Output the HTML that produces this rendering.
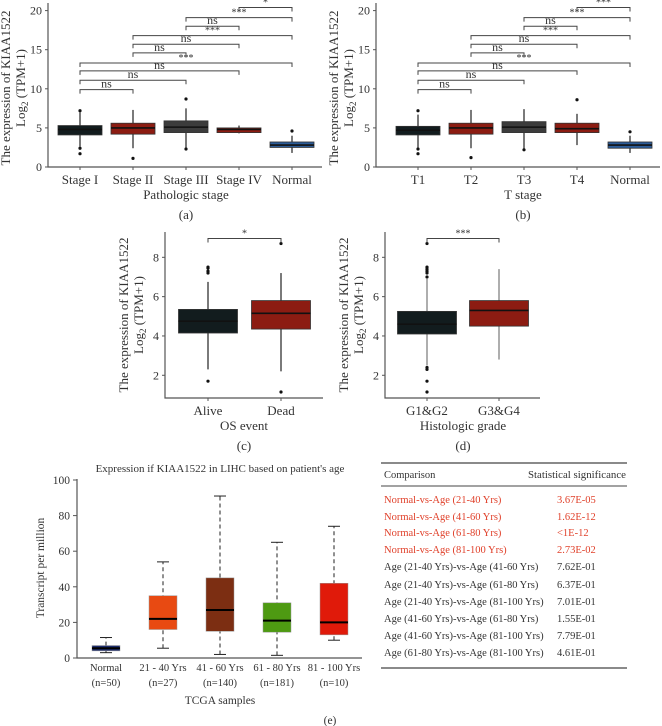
<!DOCTYPE html>
<html><head><meta charset="utf-8">
<style>
html,body{margin:0;padding:0;background:#fff;}
svg{display:block;font-family:"Liberation Serif","Times New Roman",serif;}
</style></head>
<body>
<svg id="fig" width="662" height="726" viewBox="0 0 662 726" xmlns="http://www.w3.org/2000/svg"></svg>
<script>
// ---------- DATA ----------
// each box: [whiskerLow, q1, median, q3, whiskerHigh]
const stageCats = ["Stage I","Stage II","Stage III","Stage IV","Normal"];
const stageBoxes = [[2.6,4.1,4.8,5.3,7.0],[2.4,4.2,5.0,5.6,7.3],[2.5,4.4,5.1,5.9,7.5],[4.3,4.4,4.8,5.0,5.3],[1.8,2.5,2.8,3.2,4.0]];
const stageOutliers = [[7.2,2.4,1.7],[1.1],[8.7,2.3],[],[4.6]];
const stageSig = ["ns","ns","ns","***","ns","ns","***","ns","***","*"];
const tCats = ["T1","T2","T3","T4","Normal"];
const tBoxes = [[2.5,4.1,4.7,5.2,6.7],[2.4,4.2,5.0,5.6,7.3],[2.2,4.4,5.1,5.8,7.4],[2.8,4.4,4.9,5.6,6.8],[1.8,2.4,2.8,3.2,4.0]];
const tOutliers = [[7.2,2.3,1.7],[1.2],[2.2],[8.6],[4.5]];
const tSig = ["ns","ns","ns","***","ns","ns","***","ns","***","***"];
const osCats = ["Alive","Dead"];
const osBoxes = [[2.3,4.15,4.75,5.35,6.75],[2.2,4.35,5.15,5.8,7.2]];
const osOutliers = [[7.2,7.3,7.45,7.5,1.7],[8.7,1.15]];
const gradeCats = ["G1&G2","G3&G4"];
const gradeBoxes = [[2.5,4.1,4.6,5.25,6.9],[2.8,4.5,5.3,5.8,7.4]];
const gradeOutliers = [[7.0,7.2,7.3,7.4,7.5,8.7,2.4,2.3,1.7,1.15],[]];
const ageCats = ["Normal","21 - 40 Yrs","41 - 60 Yrs","61 - 80 Yrs","81 - 100 Yrs"];
const ageN = ["(n=50)","(n=27)","(n=140)","(n=181)","(n=10)"];
const ageBoxes = [[3,4,5.5,7,11.5],[5.5,16,22,35,54],[2,15,27,45,91],[1.5,14.5,21,31,65],[10,13,20,42,74]];
const ageTicks = [0,20,40,60,80,100];
const compRows = ["Normal-vs-Age (21-40 Yrs)","Normal-vs-Age (41-60 Yrs)","Normal-vs-Age (61-80 Yrs)","Normal-vs-Age (81-100 Yrs)","Age (21-40 Yrs)-vs-Age (41-60 Yrs)","Age (21-40 Yrs)-vs-Age (61-80 Yrs)","Age (21-40 Yrs)-vs-Age (81-100 Yrs)","Age (41-60 Yrs)-vs-Age (61-80 Yrs)","Age (41-60 Yrs)-vs-Age (81-100 Yrs)","Age (61-80 Yrs)-vs-Age (81-100 Yrs)"];
const compVals = ["3.67E-05","1.62E-12","<1E-12","2.73E-02","7.62E-01","6.37E-01","7.01E-01","1.55E-01","7.79E-01","4.61E-01"];

// ---------- HELPERS ----------
const NS="http://www.w3.org/2000/svg";
const svg=document.getElementById('fig');
function mk(tag,attrs,parent,text){const e=document.createElementNS(NS,tag);for(const k in attrs)e.setAttribute(k,attrs[k]);if(text!==undefined)e.textContent=text;(parent||svg).appendChild(e);return e;}
function grp(name){const g=mk('g',{});return g;}

function boxPanel(o){
  const g=grp(o.name);
  const ys=v=>o.y0-(v-o.vmin)*o.k;
  const xs=i=>o.x0+i*o.step;
  const ax=mk('path',{d:`M${o.ax},${o.top} V${o.axY} H${o.axR}`,fill:'none',stroke:'#555','stroke-width':1.2},g);
  
  o.ticks.forEach(t=>{const y=ys(t);mk('line',{x1:o.ax-3,x2:o.ax,y1:y,y2:y,stroke:'#555'},g);
    const tl=mk('text',{x:o.ax-6,y:y+4,'text-anchor':'end','font-size':o.fs||12,fill:'#333'},g,t);
    });
  o.cats.forEach((c,i)=>{const x=xs(i);const b=o.boxes[i];
    mk('line',{x1:x,x2:x,y1:o.axY,y2:o.axY+3,stroke:'#555'},g);
    mk('line',{x1:x,x2:x,y1:ys(b[0]),y2:ys(b[4]),stroke:o.wc||'#222','stroke-width':1.2},g);
    const r=mk('rect',{x:x-o.bw/2,y:ys(b[3]),width:o.bw,height:ys(b[1])-ys(b[3]),fill:o.colors[i],stroke:'#333','stroke-width':0.8},g);
    
    mk('line',{x1:x-o.bw/2,x2:x+o.bw/2,y1:ys(b[2]),y2:ys(b[2]),stroke:o.mc||'#111','stroke-width':1.6},g);
    (o.outs[i]||[]).forEach(v=>mk('circle',{cx:x,cy:ys(v),r:1.6,fill:'#111'},g));
    const l=mk('text',{x:x,y:o.axY+17,'text-anchor':'middle','font-size':13,fill:'#333'},g,c);
    
  });
  const xt=mk('text',{x:o.xtX,y:o.axY+32,'text-anchor':'middle','font-size':13,fill:'#333'},g,o.xtitle);
  
  const yt=mk('text',{transform:`translate(${o.ytX},${o.ytY}) rotate(-90)`,'text-anchor':'middle','font-size':13,fill:'#333'},g);
  
  mk('tspan',{x:0,y:0},yt,'The expression of KIAA1522');
  mk('tspan',{x:0,y:15},yt,'Log');mk('tspan',{'font-size':9,dy:3},yt,'2');mk('tspan',{dy:-3},yt,' (TPM+1)');
  const pl=mk('text',{x:o.xtX,y:o.axY+52,'text-anchor':'middle','font-size':13,fill:'#333'},g,o.label);
  
  if(o.pairs){o.pairs.forEach((p,j)=>{const y=ys(o.blev[j]);const x1=xs(p[0]),x2=xs(p[1]);
    mk('path',{d:`M${x1},${y+4} V${y} H${x2} V${y+4}`,fill:'none',stroke:'#444','stroke-width':1},g);
    const s=mk('text',{x:(x1+x2)/2,y:y-2,'text-anchor':'middle','font-size':o.sig[j]==='ns'?12:10,fill:'#333'},g,o.sig[j]);
    });}
  return g;
}
const pairs5=[[0,1],[0,2],[0,3],[0,4],[1,2],[1,3],[1,4],[2,3],[2,4],[3,4]];
const blev5=[9.9,11.1,12.3,13.3,14.6,15.7,16.8,18.0,19.1,20.4];
const col5=['#121c1e','#8c1c12','#3c3c3c','#8c1c12','#2c5c98'];

boxPanel({name:'panel-a-pathologic-stage',cats:stageCats,boxes:stageBoxes,outs:stageOutliers,colors:col5,
  x0:80,step:53,bw:44,y0:167,vmin:0,k:7.82,ax:48,top:3,axY:167,axR:322,ticks:[0,5,10,15,20],
  xtitle:'Pathologic stage',xtX:186,ytX:10,ytY:88,label:'(a)',pairs:pairs5,blev:blev5,sig:stageSig});
boxPanel({name:'panel-b-t-stage',cats:tCats,boxes:tBoxes,outs:tOutliers,colors:col5,
  x0:418,step:53,bw:44,y0:167,vmin:0,k:7.82,ax:376,top:3,axY:167,axR:660,ticks:[0,5,10,15,20],
  xtitle:'T stage',xtX:523,ytX:338,ytY:88,label:'(b)',pairs:pairs5,blev:blev5,sig:tSig});
boxPanel({name:'panel-c-os-event',cats:osCats,boxes:osBoxes,outs:osOutliers,colors:['#121c1e','#8c1c12'],
  x0:208,step:73,bw:59,y0:414.6,vmin:0,k:19.66,ax:165,top:232,axY:398,axR:323,ticks:[2,4,6,8],
  xtitle:'OS event',xtX:244,ytX:128,ytY:315,label:'(c)',pairs:[[0,1]],blev:[8.96],sig:['*']});
boxPanel({name:'panel-d-histologic-grade',cats:gradeCats,boxes:gradeBoxes,outs:gradeOutliers,colors:['#121c1e','#8c1c12'],wc:'#777',
  x0:427,step:72,bw:59,y0:414.6,vmin:0,k:19.66,ax:385,top:232,axY:398,axR:540,ticks:[2,4,6,8],
  xtitle:'Histologic grade',xtX:463,ytX:348,ytY:315,label:'(d)',pairs:[[0,1]],blev:[8.96],sig:['***']});

// ---------- PANEL E ----------
(function(){
  const g=grp('panel-e-age-boxplot');
  const ys=v=>658-v*1.78, xs=i=>106+i*57, bw=28;
  const cols=['#1c2c6c','#e84a12','#7c2e12','#4e9a12','#e01a0a'];
  const t=mk('text',{x:220,y:472,'text-anchor':'middle','font-size':11,fill:'#333'},g,"Expression if KIAA1522 in LIHC based on patient's age");
  
  mk('path',{d:'M77,479 V658 H362',fill:'none',stroke:'#555','stroke-width':1.2},g);
  ageTicks.forEach(v=>{mk('line',{x1:73,x2:77,y1:ys(v),y2:ys(v),stroke:'#555'},g);
    const l=mk('text',{x:70,y:ys(v)+4,'text-anchor':'end','font-size':11.5,fill:'#333'},g,v);
    });
  ageCats.forEach((c,i)=>{const x=xs(i),b=ageBoxes[i];
    mk('line',{x1:x,x2:x,y1:ys(b[0]),y2:ys(b[4]),stroke:'#222','stroke-dasharray':'4,3'},g);
    mk('line',{x1:x-6,x2:x+6,y1:ys(b[0]),y2:ys(b[0]),stroke:'#222'},g);
    mk('line',{x1:x-6,x2:x+6,y1:ys(b[4]),y2:ys(b[4]),stroke:'#222'},g);
    const r=mk('rect',{x:x-bw/2,y:ys(b[3]),width:bw,height:ys(b[1])-ys(b[3]),fill:cols[i],stroke:'#999','stroke-width':0.5},g);
    
    mk('line',{x1:x-bw/2,x2:x+bw/2,y1:ys(b[2]),y2:ys(b[2]),stroke:'#000','stroke-width':2},g);
    const l=mk('text',{x:x,y:671,'text-anchor':'middle','font-size':10.5,fill:'#333'},g,c);
    
    mk('text',{x:x,y:686,'text-anchor':'middle','font-size':10.5,fill:'#333'},g,ageN[i]);
  });
  const xt=mk('text',{x:220,y:704,'text-anchor':'middle','font-size':11.5,fill:'#333'},g,'TCGA samples');
  
  const yt=mk('text',{transform:'translate(44,568) rotate(-90)','text-anchor':'middle','font-size':11.5,fill:'#333'},g,'Transcript per million');
  
  const pl=mk('text',{x:330,y:724,'text-anchor':'middle','font-size':11.5,fill:'#333'},g,'(e)');
  
})();

// ---------- TABLE ----------
(function(){
  const g=grp('comparison-table');
  mk('line',{x1:381,x2:627,y1:463,y2:463,stroke:'#444','stroke-width':1.2},g);
  mk('line',{x1:381,x2:627,y1:486,y2:486,stroke:'#444','stroke-width':1},g);
  mk('line',{x1:381,x2:627,y1:668,y2:668,stroke:'#444','stroke-width':1.2},g);
  const h1=mk('text',{x:384,y:478,'font-size':10.5,fill:'#333'},g,'Comparison');
  
  const h2=mk('text',{x:528,y:478,'font-size':10.5,fill:'#333',textLength:98,lengthAdjust:'spacingAndGlyphs'},g,'Statistical significance');
  
  const rowY=[503,520,536,553,570,588,605,622,639,656];
  compRows.forEach((r,i)=>{const c=i<4?'#e0402a':'#333';
    const a=mk('text',{x:384,y:rowY[i],'font-size':10.5,fill:c},g,r);
    
    const b=mk('text',{x:557,y:rowY[i],'font-size':10.5,fill:c},g,compVals[i]);
    });
})();
</script>
</body></html>
